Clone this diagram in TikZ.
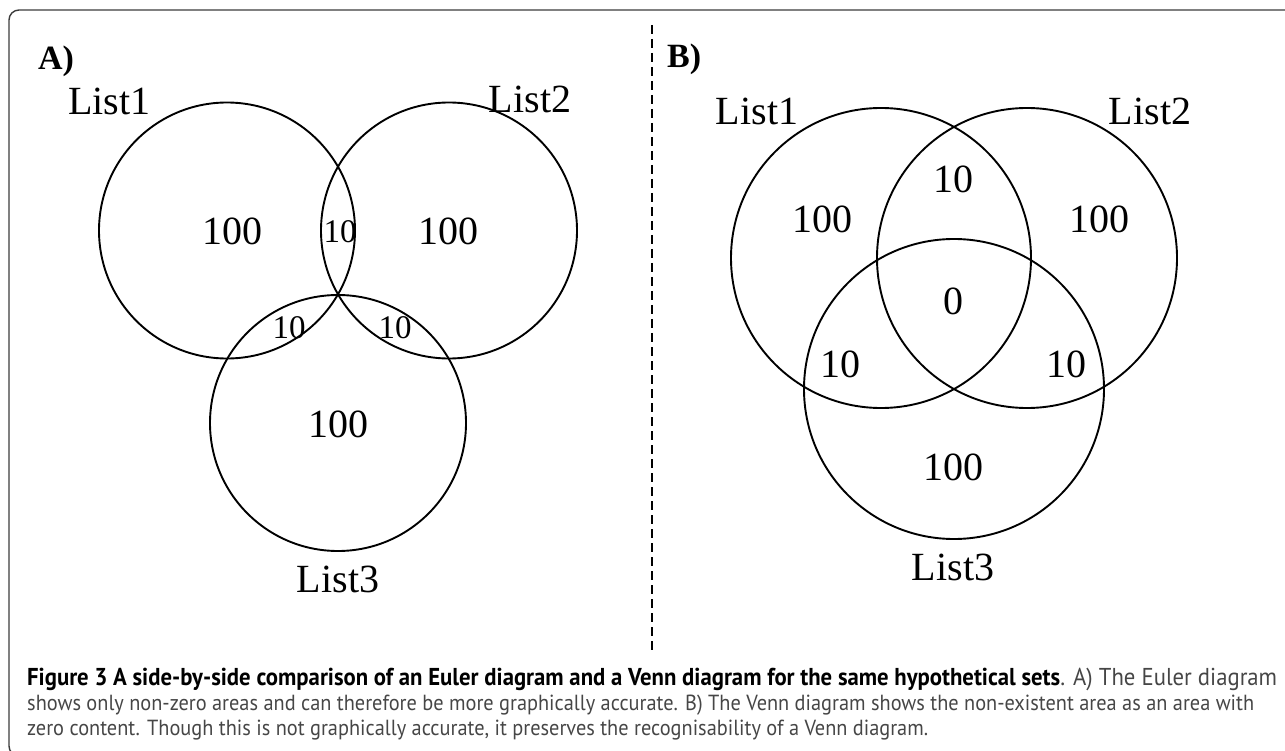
\documentclass[tikz,border=0pt]{standalone}
\usepackage{fontspec}
\setmainfont{Liberation Serif}
\newfontfamily\capfont[FakeStretch=0.93]{PT Sans}
\usepackage{graphicx}
\definecolor{capgray}{RGB}{70,70,70}
\definecolor{framegray}{RGB}{60,60,60}
\newsavebox\capboxA
\newsavebox\capboxB
\newsavebox\capboxC
\begin{document}
\sbox\capboxA{\capfont\fontsize{20}{24}\selectfont\textbf{Figure 3 A side-by-side comparison of an Euler diagram and a Venn diagram for the same hypothetical sets}{\color{capgray}. A) The Euler diagram}}
\sbox\capboxB{\capfont\fontsize{20}{24}\selectfont\color{capgray}shows only non-zero areas and can therefore be more graphically accurate. B) The Venn diagram shows the non-existent area as an area with}
\sbox\capboxC{\capfont\fontsize{20}{24}\selectfont\color{capgray}zero content. Though this is not graphically accurate, it preserves the recognisability of a Venn diagram.}
\begin{tikzpicture}[x=1pt,y=-1pt,
  setc/.style={draw, circle, line width=1.9pt, inner sep=0pt, outer sep=0pt},
  lbl/.style={font={\fontsize{40}{40}\selectfont}, inner sep=0pt, anchor=base},
  slbl/.style={font={\fontsize{33}{33}\selectfont}, inner sep=0pt, anchor=base},
  panel/.style={font={\fontsize{34}{34}\selectfont\bfseries}, inner sep=0pt, anchor=base west},
  capline/.style={inner sep=0pt, anchor=base west},
  frame/.style={draw=framegray, line width=1.4pt, rounded corners=10pt},
  divider/.style={line width=2.8pt, dash pattern=on 9pt off 5pt}]
\useasboundingbox (0,0) rectangle (1285,751);
\begin{scope}
\clip (0,0) rectangle (1285,751);
\draw[frame] (9,10) rectangle (1300,756);
\end{scope}
% divider
\coordinate (dtop) at (652,25);
\coordinate (dbot) at (652,652);
\draw[divider] (dtop) -- (dbot);
% Panel A
\node[panel] (pA) at (38,70) {A)};
\node[setc, minimum size=256pt] (A1) at (227,230.5) {};
\node[setc, minimum size=256pt] (A2) at (449,230.5) {};
\node[setc, minimum size=256pt] (A3) at (338,423) {};
\node[lbl] (A1n) at (109.5,115) {List1};
\node[lbl] (A2n) at (530,113) {List2};
\node[lbl] (A3n) at (338,592) {List3};
\node[lbl] (A1v) at (232,245) {100};
\node[lbl] (A2v) at (448,245) {100};
\node[lbl] (A3v) at (338,437) {100};
\node[slbl] (A12v) at (340,243) {10};
\node[slbl] (A13v) at (289,338) {10};
\node[slbl] (A23v) at (395,338) {10};
% Panel B
\node[panel] (pB) at (667,68) {B)};
\node[setc, minimum size=300pt] (B1) at (881,258) {};
\node[setc, minimum size=300pt] (B2) at (1027,258) {};
\node[setc, minimum size=300pt] (B3) at (954,389) {};
\node[lbl] (B1n) at (757,125) {List1};
\node[lbl] (B2n) at (1150,125) {List2};
\node[lbl] (B3n) at (953,580) {List3};
\node[lbl] (B1v) at (822,233) {100};
\node[lbl] (B2v) at (1099,233) {100};
\node[lbl] (B3v) at (953,480) {100};
\node[lbl] (B12v) at (953,193) {10};
\node[lbl] (B13v) at (840,377) {10};
\node[lbl] (B23v) at (1066,377) {10};
\node[lbl] (B123v) at (953,315) {0};
% Caption
\pgfmathsetmacro\scA{1250/\wd\capboxA}
\pgfmathsetmacro\scB{1227/\wd\capboxB}
\node[capline] (cap1) at (27,685) {\scalebox{\scA}{\usebox\capboxA}};
\node[capline] (cap2) at (27,710) {\scalebox{\scB}{\usebox\capboxB}};
\node[capline] (cap3) at (27,735) {\scalebox{\scB}{\usebox\capboxC}};
\end{tikzpicture}
\end{document}
